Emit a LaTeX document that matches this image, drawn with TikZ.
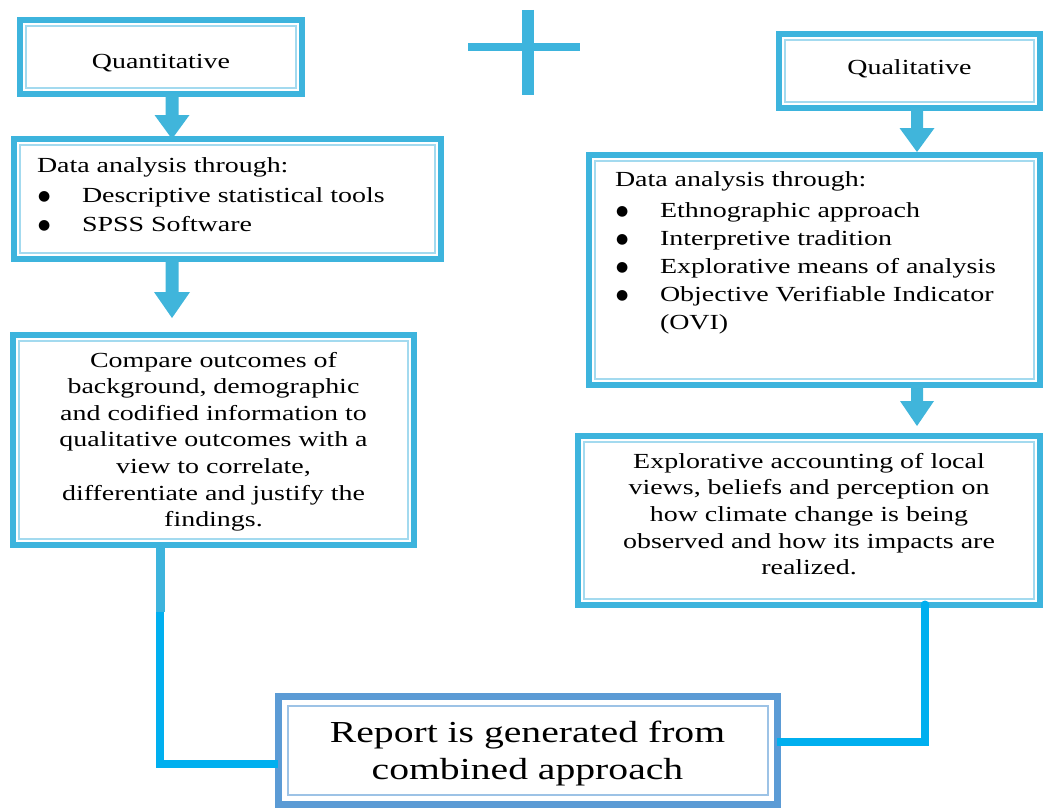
\documentclass[tikz,border=0pt]{standalone}
\usepackage{fontspec}
\setmainfont{Liberation Serif}[FakeStretch=1.3]
\newfontfamily\symfont{DejaVu Sans}
\usetikzlibrary{calc}
\definecolor{boxblue}{HTML}{3DB4DD}
\definecolor{innerblue}{HTML}{A3DAEF}
\definecolor{arrowblue}{HTML}{40B5DB}
\definecolor{connblue}{HTML}{00AFEF}
\definecolor{repblue}{HTML}{5B9BD5}
\definecolor{repinner}{HTML}{9DC3E6}
\newcommand\blt{\makebox[45pt][l]{\hspace{1pt}\raisebox{2pt}{\symfont\fontsize{14}{14}\selectfont ●}}}
\newcommand\blockarrow[5]{%
  \fill[arrowblue] ($(#1)+(-#3,0)$) -- ($(#2)+(-#3,-#5)$) -- ($(#2)+(-#4,-#5)$) -- (#2)
    -- ($(#2)+(#4,-#5)$) -- ($(#2)+(#3,-#5)$) -- ($(#1)+(#3,0)$) -- cycle;}
\begin{document}
\begin{tikzpicture}[x=1pt,y=-1pt,
  dbox/.style={draw=boxblue, line width=6pt, fill=white, inner sep=0pt, outer sep=0pt,
    font=\fontsize{21.5}{28}\selectfont},
  rbox/.style={draw=repblue, line width=7pt, fill=white, inner sep=0pt, outer sep=0pt,
    font=\fontsize{30.5}{36.7}\selectfont},
  innerline/.style={draw=innerblue, line width=2pt},
  repline/.style={draw=repinner, line width=2pt},
  conn/.style={draw=connblue, line width=8pt},
  plusbar/.style={draw=boxblue}]
\useasboundingbox (0,0) rectangle (1043,808);

% boxes
\node[dbox] (qn) at (161,57) {\parbox[c][74pt][t]{282pt}{\centering\vspace*{34pt}Quantitative}};
\node[dbox] (ql) at (909.5,71) {\parbox[c][74pt][t]{261pt}{\centering\vspace*{26pt}Qualitative}};
\node[dbox] (da1) at (227.5,199) {\parbox[c][120pt][t]{427pt}{\raggedright\leftskip=23pt\relax
  \vspace*{19pt}Data analysis through:\\[1.5pt]
  \blt Descriptive statistical tools\\[1.5pt]
  \blt SPSS Software}};
\node[dbox] (da2) at (814.5,270) {\parbox[c][230pt][t]{451pt}{\raggedright\leftskip=26pt\relax
  \vspace*{17pt}Data analysis through:\\[3pt]
  \blt Ethnographic approach\\
  \blt Interpretive tradition\\
  \blt Explorative means of analysis\\
  \blt Objective Verifiable Indicator\\
  \hspace*{45pt}(OVI)}};
\node[dbox] (cmp) at (213.5,440) {\parbox[c][210pt][t]{401pt}{\fontsize{21.5}{26.6}\selectfont\centering
  \vspace*{17pt}Compare outcomes of\\
  background, demographic\\
  and codified information to\\
  qualitative outcomes with a\\
  view to correlate,\\
  differentiate and justify the\\
  findings.}};
\node[dbox] (exp) at (809,520.5) {\parbox[c][169pt][t]{462pt}{\fontsize{21.5}{26.7}\selectfont\centering
  \vspace*{17pt}Explorative accounting of local\\
  views, beliefs and perception on\\
  how climate change is being\\
  observed and how its impacts are\\
  realized.}};
\node[rbox] (rep) at (527.5,750) {\parbox[c][108pt][t]{499pt}{\centering
  \vspace*{25pt}Report is generated from\\
  combined approach}};

\foreach \n in {qn,ql,da1,da2,cmp,exp}
  \draw[innerline] ([shift={(6pt,6pt)}]\n.south west) rectangle ([shift={(-6pt,-6pt)}]\n.north east);
\draw[repline] ([shift={(9.5pt,9.5pt)}]rep.south west) rectangle ([shift={(-9.5pt,-9.5pt)}]rep.north east);

% block arrows
\coordinate (ax1) at (172,0);
\coordinate (ax2) at (917,0);
\coordinate (a1s) at (qn.south -| ax1);
\coordinate (a1e) at (da1.north -| ax1);
\coordinate (a2s) at (da1.south -| ax1);
\coordinate (a2e) at ($(cmp.north -| ax1)+(0,-17)$);
\coordinate (a3s) at (ql.south -| ax2);
\coordinate (a3e) at ($(da2.north -| ax2)+(0,-3)$);
\coordinate (a4s) at (da2.south -| ax2);
\coordinate (a4e) at ($(exp.north -| ax2)+(0,-10)$);
\blockarrow{a1s}{a1e}{6.5}{17.5}{24}
\blockarrow{a2s}{a2e}{6.5}{18}{26}
\blockarrow{a3s}{a3e}{6}{17.5}{24}
\blockarrow{a4s}{a4e}{6}{17}{25}

% connectors to report
\coordinate (lc) at (160,764);
\coordinate (lm) at (160,612);
\draw[conn] (cmp.south -| lc) -- (lc) -- (lc -| rep.west);
\draw[draw=boxblue, line width=9pt] (cmp.south -| lm) -- (lm);
\coordinate (rc) at (925,742);
\draw[conn] (rep.east |- rc) -- (rc) -- (exp.south -| rc);
\fill[connblue] (exp.south -| rc) circle (4.5pt);

% plus sign
\draw[plusbar, line width=8pt] (468,47) -- (580,47);
\draw[plusbar, line width=12pt] (528,10) -- (528,95);
\end{tikzpicture}
\end{document}
